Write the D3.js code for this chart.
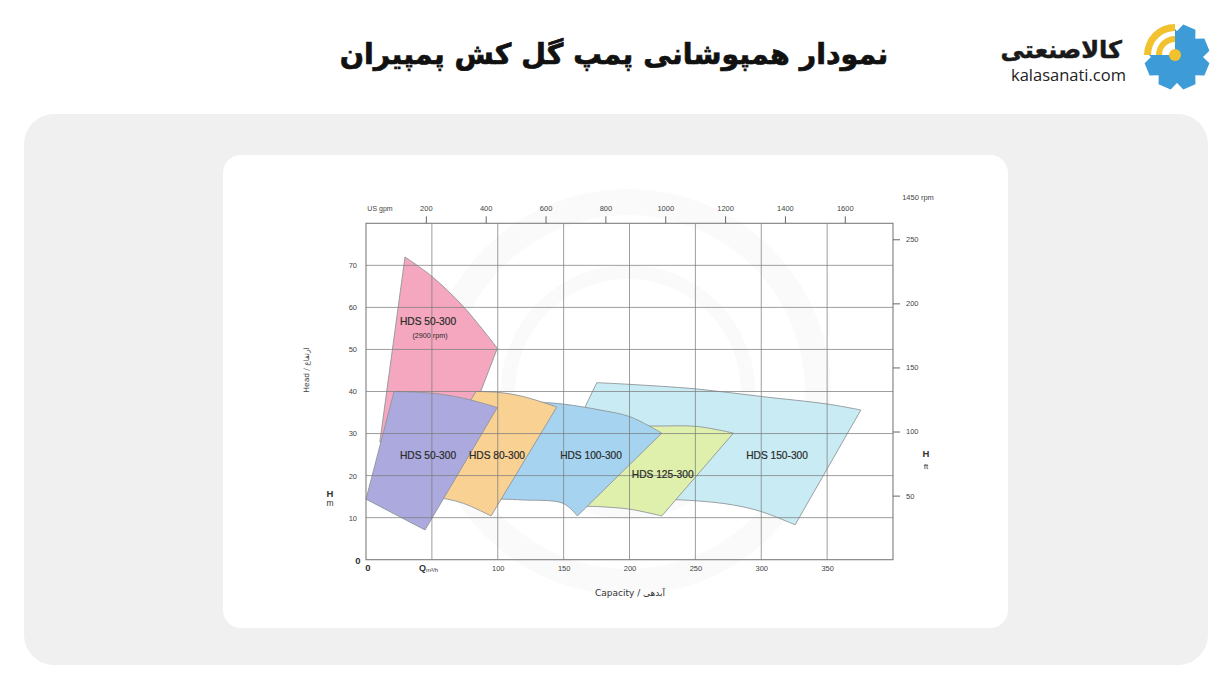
<!DOCTYPE html>
<html><head><meta charset="utf-8">
<script src="https://cdn.jsdelivr.net/npm/d3@7"></script>
<style>
html,body{margin:0;padding:0;background:#fff;}
svg{display:block;}
</style></head>
<body>
<svg id="c" width="1232" height="691"></svg>
<script>
// ---------------- DATA ----------------
const titleText = "نمودار همپوشانی پمپ گل کش پمپیران";
const seriesNames = ["HDS 150-300","HDS 125-300","HDS 100-300","HDS 50-300","HDS 80-300","HDS 50-300"];
const seriesSub   = ["","","","(2900 rpm)","",""];
const seriesColors = ["#c9ecf4","#dff0ad","#a6d4f0","#f4a7be","#f9d193","#aba9de"];
// upper (left→right) and lower (right→left) operating-range curves, [Q m3/h, H m]
const topEdges = [
  [[175.2,42.1],[200,41.7],[251,40.6],[300.4,38.8],[350.5,37.0],[375.6,35.6]],
  [[190,32.2],[215.6,31.8],[251,31.7],[278.9,30.1]],
  [[125,37.6],[149.8,37.0],[177.7,35.6],[200.4,34.0],[224.5,30.1]],
  [[29.6,72],[49.9,67.4],[73.9,60.2],[99.7,50.3]],
  [[83.5,40],[100,39.8],[119.4,38.8],[144.8,36.3]],
  [[21.3,40],[49.9,39.6],[73.9,38.4],[99.7,36.2]]
];
const bottomEdges = [
  [[325.7,8.3],[300.4,11.4],[278.9,13.0],[251,14.0],[200,14.6],[140,15]],
  [[224.5,10.4],[200.4,12.0],[177.7,12.6],[166,12.7]],
  [[160.4,10.4],[149.6,13.4],[119.4,14.2],[103,14.4],[81,14.5]],
  [[65,22],[10.5,28]],
  [[94.9,10.4],[73.9,13.4],[57.9,14.6],[35,15.2]],
  [[44.8,7.07],[0,14.4]]
];
const leftEdges = [[[167,36.8]],[],[],[],[],[]];
const labelPos = [[312,24.9],[225.2,20.4],[170.8,24.9],[47.1,56.6],[99.4,24.9],[47.1,24.9]];
const subLabelPos = [null,null,null,[48.6,53.3],null,null];

const headTicks = [10,20,30,40,50,60,70];
const capTicks = [100,150,200,250,300,350];
const gridX = [50,100,150,200,250,300,350];
const gridY = [10,20,30,40,50,60,70];
const ftTicks = [50,100,150,200,250];
const gpmTicks = [200,400,600,800,1000,1200,1400,1600];
const M_TO_FT = 3.2808, M3H_TO_GPM = 4.4029;

// ---------------- LAYOUT ----------------
const svg = d3.select("#c");
const X0=366, X1=893, Y0=559.7, Y1=223.3;
const x = d3.scaleLinear().domain([0,400]).range([X0,X1]);
const y = d3.scaleLinear().domain([0,80]).range([Y0,Y1]);
const yft = d3.scaleLinear().domain([0,80*M_TO_FT]).range([Y0,Y1]);
const xg = d3.scaleLinear().domain([0,400*M3H_TO_GPM]).range([X0,X1]);

// cards
svg.append("rect").attr("x",24).attr("y",114).attr("width",1184).attr("height",551).attr("rx",30).attr("fill","#f0f0f0");
svg.append("rect").attr("x",223).attr("y",155).attr("width",785).attr("height",473).attr("rx",18).attr("fill","#ffffff");

// faint watermark rings
const wm = svg.append("g").attr("fill","none").attr("stroke","#fafafa");
wm.append("circle").attr("cx",628).attr("cy",392).attr("r",190).attr("stroke-width",26);
wm.append("circle").attr("cx",628).attr("cy",392).attr("r",120).attr("stroke-width",14);

// title
svg.append("text").attr("x",614).attr("y",64).attr("text-anchor","middle")
  .attr("font-family","'DejaVu Sans',sans-serif").attr("font-weight","bold")
  .attr("font-size",28.5).attr("fill","#111").attr("stroke","#111").attr("stroke-width",0.7).text(titleText);

// logo
const logo = svg.append("g");
logo.append("text").attr("x",1122).attr("y",58).attr("text-anchor","end")
  .attr("font-family","'DejaVu Sans',sans-serif").attr("font-weight","bold").attr("font-size",24)
  .attr("fill","#1a1a1a").attr("stroke","#1a1a1a").attr("stroke-width",0.5).text("کالاصنعتی");
logo.append("text").attr("x",1011).attr("y",81)
  .attr("font-family","'Open Sans',sans-serif").attr("font-size",16.5).attr("fill","#222").text("kalasanati.com");
(function(){
  const cx=1177, cy=57, rO=33, rI=26, n=8;
  let pts=[];
  for(let i=0;i<n;i++){
    const a=i*2*Math.PI/n + Math.PI/8;
    const w=0.2;
    pts.push([a-0.39,rI],[a-w,rO],[a+w,rO],[a+0.39,rI]);
  }
  const p = d3.path();
  pts.forEach((q,i)=>{const px=cx+q[1]*Math.cos(q[0]), py=cy+q[1]*Math.sin(q[0]); i?p.lineTo(px,py):p.moveTo(px,py);});
  p.closePath();
  logo.append("path").attr("d",p.toString()).attr("fill","#3d9bd8");
  const arc = d3.arc();
  logo.append("path").attr("transform",`translate(${cx-2},${cy-2})`)
    .attr("d",arc({innerRadius:0,outerRadius:36,startAngle:-Math.PI/2,endAngle:0})).attr("fill","#fff");
  logo.append("path").attr("transform",`translate(${cx-2},${cy-2})`)
    .attr("d",arc({innerRadius:24,outerRadius:31,startAngle:-Math.PI/2,endAngle:0})).attr("fill","#f2c12e");
  logo.append("path").attr("transform",`translate(${cx-2},${cy-2})`)
    .attr("d",arc({innerRadius:13,outerRadius:19,startAngle:-Math.PI/2,endAngle:0})).attr("fill","#f2c12e");
  logo.append("circle").attr("cx",cx-2).attr("cy",cy-2).attr("r",6).attr("fill","#f2c12e");
})();

// ---------------- SHAPES ----------------
const curve = d3.line().x(d=>x(d[0])).y(d=>y(d[1])).curve(d3.curveCatmullRom.alpha(0.5));
const gShapes = svg.append("g");
topEdges.forEach((top,i)=>{
  let d = curve(top) + curve(bottomEdges[i]).replace(/^M/,"L");
  leftEdges[i].forEach(q=>{ d += "L"+x(q[0])+","+y(q[1]); });
  d += "Z";
  gShapes.append("path").attr("d",d).attr("fill",seriesColors[i])
    .attr("stroke","#8f959a").attr("stroke-width",0.9).attr("stroke-linejoin","round");
});

// ---------------- GRID ----------------
const grid = svg.append("g").attr("stroke","#7d7d7d").attr("stroke-width",1).attr("stroke-opacity",0.75);
gridX.forEach(v=>grid.append("line").attr("x1",x(v)).attr("x2",x(v)).attr("y1",Y1).attr("y2",Y0));
gridY.forEach(v=>grid.append("line").attr("x1",X0).attr("x2",X1).attr("y1",y(v)).attr("y2",y(v)));
svg.append("rect").attr("x",X0).attr("y",Y1).attr("width",X1-X0).attr("height",Y0-Y1)
  .attr("fill","none").attr("stroke","#7d7d7d").attr("stroke-width",1.1);

// shape labels
const gLab = svg.append("g").attr("font-family","'Liberation Sans',Arial,sans-serif").attr("fill","#2a2a2a").attr("text-anchor","middle");
seriesNames.forEach((n,i)=>{
  gLab.append("text").attr("x",x(labelPos[i][0])).attr("y",y(labelPos[i][1])+3.6).attr("font-size",10.2)
    .attr("stroke","#2a2a2a").attr("stroke-width",0.2).text(n);
  if(seriesSub[i]) gLab.append("text").attr("x",x(subLabelPos[i][0])).attr("y",y(subLabelPos[i][1])+2.6).attr("font-size",7.2).text(seriesSub[i]);
});

// ---------------- AXES ----------------
function styleAxis(g){
  g.select(".domain").remove();
  g.selectAll("text").attr("font-family","'Liberation Sans',Arial,sans-serif").attr("fill","#444");
  g.selectAll("line").attr("stroke","#666");
}
const fmt = d3.format("d");
svg.append("g").attr("transform",`translate(${X0},0)`)
  .call(d3.axisLeft(y).tickValues(headTicks).tickFormat(fmt).tickSize(0).tickPadding(9))
  .call(styleAxis).selectAll("text").attr("font-size",7.5);
svg.append("g").attr("transform",`translate(0,${Y0})`)
  .call(d3.axisBottom(x).tickValues(capTicks).tickFormat(fmt).tickSize(0).tickPadding(6))
  .call(styleAxis).selectAll("text").attr("font-size",7.5);
svg.append("g").attr("transform",`translate(${X1},0)`)
  .call(d3.axisRight(yft).tickValues(ftTicks).tickFormat(fmt).tickSize(7).tickPadding(6).tickSizeOuter(0))
  .call(styleAxis).selectAll("text").attr("font-size",7.5);
svg.append("g").attr("transform",`translate(0,${Y1})`)
  .call(d3.axisTop(xg).tickValues(gpmTicks).tickFormat(fmt).tickSize(7).tickPadding(5).tickSizeOuter(0))
  .call(styleAxis).selectAll("text").attr("font-size",7.5);

const ax = svg.append("g").attr("font-family","'Liberation Sans',Arial,sans-serif").attr("fill","#333");
ax.append("text").attr("x",358).attr("y",563.5).attr("text-anchor","middle").attr("font-size",9.5).attr("font-weight","bold").text("0");
ax.append("text").attr("x",368).attr("y",571).attr("text-anchor","middle").attr("font-size",9.5).attr("font-weight","bold").text("0");
const q = ax.append("text").attr("x",419).attr("y",571).attr("font-size",9).attr("font-weight","bold");
q.append("tspan").text("Q");
q.append("tspan").attr("font-size",6).attr("font-weight","normal").attr("dy",1).text("m³/h");
ax.append("text").attr("x",380).attr("y",211).attr("text-anchor","middle").attr("font-size",7).attr("fill","#444").text("US gpm");
ax.append("text").attr("x",918).attr("y",200).attr("text-anchor","middle").attr("font-size",7.5).attr("fill","#444").text("1450 rpm");
ax.append("text").attr("x",330).attr("y",497).attr("text-anchor","middle").attr("font-size",9.5).attr("font-weight","bold").text("H");
ax.append("text").attr("x",330).attr("y",506).attr("text-anchor","middle").attr("font-size",8.5).text("m");
ax.append("text").attr("x",926).attr("y",457).attr("text-anchor","middle").attr("font-size",9.5).attr("font-weight","bold").text("H");
ax.append("text").attr("x",926).attr("y",469).attr("text-anchor","middle").attr("font-size",8).text("ft");
ax.append("text").attr("x",630).attr("y",596).attr("text-anchor","middle").attr("font-size",9).attr("fill","#333")
  .attr("font-family","'DejaVu Sans',sans-serif").text("Capacity / آبدهی");
ax.append("text").attr("transform","translate(309,370) rotate(-90)").attr("text-anchor","middle")
  .attr("font-size",7.5).attr("fill","#444").attr("font-family","'DejaVu Sans',sans-serif").text("Head / ارتفاع");
</script>
</body></html>
